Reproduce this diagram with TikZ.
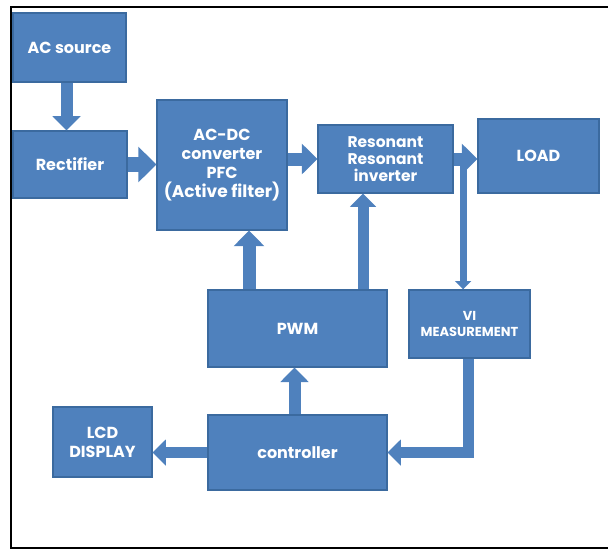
\documentclass[tikz,border=0pt]{standalone}
\usepackage{fontspec}
\setmainfont{Poppins}
\usetikzlibrary{arrows.meta, calc}
\definecolor{blockblau}{HTML}{4F81BD}
\definecolor{randblau}{HTML}{3B6A9F}

\begin{document}
\begin{tikzpicture}[x=1pt, y=-1pt,
	block/.style={draw=randblau, fill=blockblau, line width=1.2pt, text=white,
		font=\bfseries\fontsize{16}{19}\selectfont, align=center, inner sep=0pt},
	pfeil/.style={draw=blockblau, line width=#1, -{Triangle[width=2.3*#1, length=1.2*#1]}},
	pfeil/.default=12pt]
\useasboundingbox (0,0) rectangle (608,550);

% Rahmen
\draw[line width=2.5pt] (608,7) -- (11,7) -- (11,548) -- (608,548);

% Bloecke
\node[block, minimum width=113, minimum height=69] (acs) at (69.5,47.5) {AC source};
\node[block, minimum width=114, minimum height=67] (rect) at (70,164.5) {Rectifier};
\node[block, minimum width=130, minimum height=130] (acdc) at (222,165)
	{AC-DC\\converter\\PFC\\{\fontsize{17}{20}\selectfont (Active filter)}};
\node[block, minimum width=135, minimum height=68, font=\bfseries\fontsize{15.5}{17}\selectfont]
	(res) at (385.5,159) {Resonant\\Resonant\\inverter};
\node[block, minimum width=121, minimum height=74] (load) at (538.5,156) {LOAD};
\node[block, minimum width=121, minimum height=68, font=\bfseries\fontsize{13}{16}\selectfont]
	(vi) at (469.5,324) {VI\\MEASUREMENT};
\node[block, minimum width=179, minimum height=77] (pwm) at (297.5,328.5) {PWM};
\node[block, minimum width=179, minimum height=75] (ctrl) at (297.5,452.5) {controller};
\node[block, minimum width=99, minimum height=70] (lcd) at (102.5,442) {LCD\\DISPLAY};

% Leistungspfad
\draw[pfeil] ([xshift=-3]acs.south) -- ([xshift=-3]acs.south |- rect.north);
\draw[pfeil=15pt] (rect.east) -- (acdc.west |- rect.east);
\draw[pfeil=13pt] (acdc.east |- res.west) -- (res.west);
\draw[pfeil=13pt] (res.east) -- (load.west |- res.east);

% Messung und Regelung
\coordinate (tap) at ($(res.east)!0.4!(load.west |- res.east)$);
\draw[pfeil=7pt] (tap) -- (tap |- vi.north);
\draw[pfeil=11pt] ([xshift=-1]vi.south) |- (ctrl.east);
\draw[pfeil=11pt] (ctrl.west) -- (lcd.east |- ctrl.west);
\draw[pfeil] ([xshift=-3]ctrl.north) -- ([xshift=-3]pwm.south);
\draw[pfeil=13pt] ([xshift=-48.5]pwm.north) -- ([xshift=-48.5]pwm.north |- acdc.south);
\draw[pfeil=11pt] ([xshift=65.5]pwm.north) -- ([xshift=65.5]pwm.north |- res.south);
\end{tikzpicture}
\end{document}
